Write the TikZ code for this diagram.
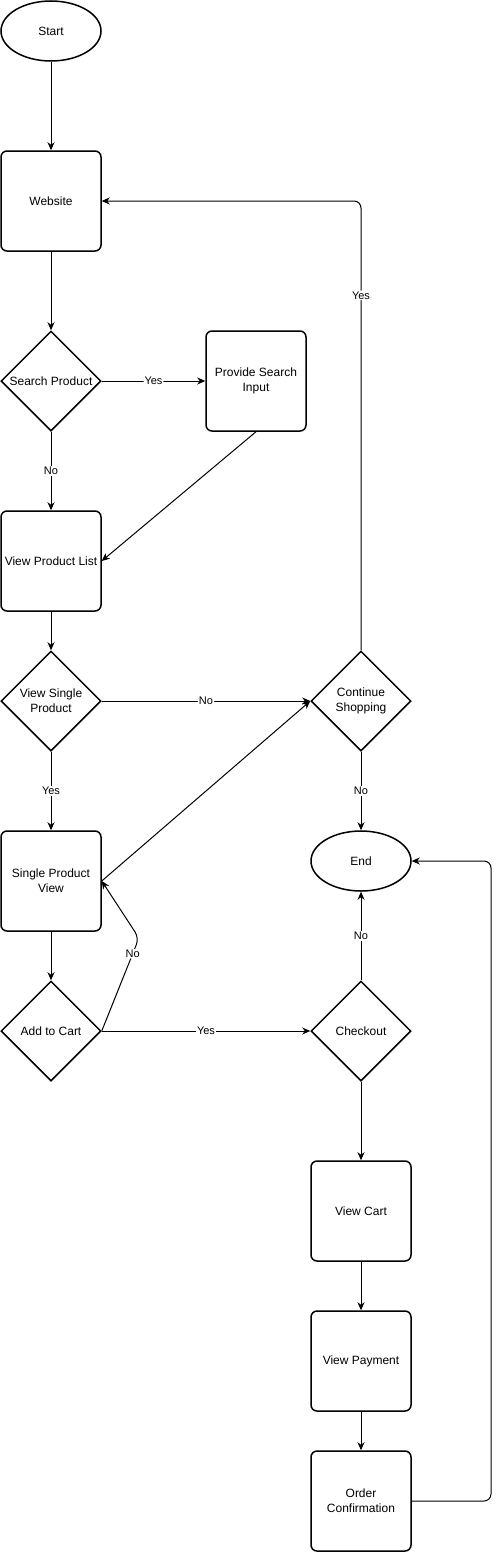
\documentclass[tikz,border=0pt]{standalone}
\usepackage{fontspec}
\setmainfont{Liberation Sans}
\usetikzlibrary{shapes.geometric,arrows.meta}
\begin{document}
\begin{tikzpicture}[x=1pt,y=-1pt,
  box/.style={draw,line width=1.5pt,rounded corners=6pt,minimum width=100pt,minimum height=100pt,inner sep=0pt,align=center,font=\fontsize{12}{15}\selectfont},
  dia/.style={draw,line width=1.5pt,diamond,aspect=1,minimum width=100pt,minimum height=100pt,inner sep=0pt,align=center,font=\fontsize{12}{15}\selectfont},
  term/.style={draw,line width=1.5pt,ellipse,minimum width=100pt,minimum height=60pt,inner sep=0pt,font=\fontsize{12}{15}\selectfont},
  arr/.style={draw,line width=1pt,-{Stealth[length=8pt,width=7pt,inset=2.5pt]},rounded corners=7pt},
  lbl/.style={fill=white,inner sep=1pt,font=\fontsize{11}{13}\selectfont}]
\useasboundingbox (0,0) rectangle (501,1552);
\node[term] (start) at (51,31) {Start};
\node[box] (web) at (51,201) {Website};
\node[dia] (search) at (51,381) {Search Product};
\node[box] (provide) at (256,381) {Provide Search\\Input};
\node[box] (vpl) at (51,561) {View Product List};
\node[dia] (vsp) at (51,701) {View Single\\Product};
\node[dia] (cs) at (361,701) {Continue\\Shopping};
\node[box] (spv) at (51,881) {Single Product\\View};
\node[term] (end) at (361,861) {End};
\node[dia] (atc) at (51,1031) {Add to Cart};
\node[dia] (checkout) at (361,1031) {Checkout};
\node[box] (cart) at (361,1211) {View Cart};
\node[box] (pay) at (361,1361) {View Payment};
\node[box] (oc) at (361,1501) {Order\\Confirmation};
\coordinate (csup) at (361,201);
\coordinate (bend) at (139,938);
\coordinate (oca) at (491,1501);
\coordinate (ocb) at (491,861);

\draw[arr] (start) -- (web);
\draw[arr] (web) -- (search);
\draw[arr] (search) -- node[lbl]{Yes} (provide);
\draw[arr] (search) -- node[lbl]{No} (vpl);
\draw[arr] (provide.south) -- (vpl.east);
\draw[arr] (vpl) -- (vsp);
\draw[arr] (vsp) -- node[lbl]{No} (cs);
\draw[arr] (vsp) -- node[lbl]{Yes} (spv);
\draw[arr] (spv.east) -- (cs.west);
\draw[arr] (spv) -- (atc);
\draw[arr] (atc.east) -- node[lbl,pos=0.83]{No} (bend) -- (spv.east);
\draw[arr] (atc) -- node[lbl]{Yes} (checkout);
\draw[arr] (cs) -- node[lbl]{No} (end);
\draw[arr] (checkout) -- node[lbl]{No} (end);
\draw[arr] (cs.north) -- node[lbl,pos=0.79]{Yes} (csup) -- (web.east);
\draw[arr] (checkout) -- (cart);
\draw[arr] (cart) -- (pay);
\draw[arr] (pay) -- (oc);
\draw[arr] (oc.east) -- (oca) -- (ocb) -- (end.east);
\end{tikzpicture}
\end{document}
